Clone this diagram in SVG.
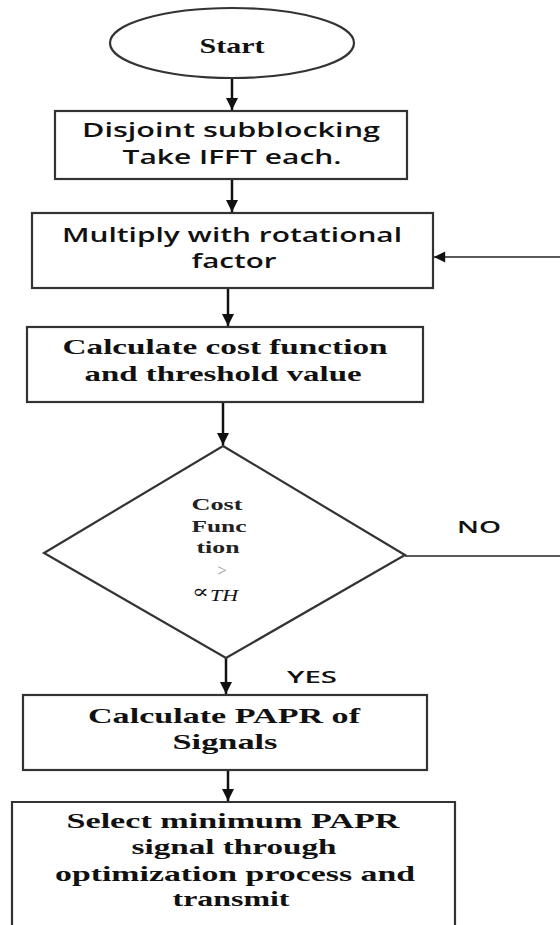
<svg xmlns="http://www.w3.org/2000/svg" width="560" height="925" viewBox="0 0 560 925">
<defs>
<marker id="ah" viewBox="0 0 10 10" refX="10" refY="5" markerWidth="5" markerHeight="5" orient="auto" markerUnits="strokeWidth">
<path d="M0,0 L10,5 L0,10 z" fill="#111"/>
</marker>
<marker id="ah2" viewBox="0 0 10 10" refX="10" refY="5" markerWidth="8" markerHeight="7" orient="auto" markerUnits="strokeWidth">
<path d="M0,0 L10,5 L0,10 z" fill="#111"/>
</marker>
<style>
.shape{fill:#fff;stroke:#333;stroke-width:2.2}
.conn{stroke:#111;stroke-width:2.5;fill:none}
.thin{stroke:#222;stroke-width:1.6;fill:none}
.ser{font-family:"Liberation Serif","Times New Roman",serif;font-weight:bold;font-size:22px;fill:#111;text-anchor:middle}
.sans{font-family:"Open Sans","DejaVu Sans",sans-serif;font-weight:600;font-size:19px;fill:#111;text-anchor:middle}
.dia{font-family:"Liberation Serif","Times New Roman",serif;font-weight:bold;font-size:16px;fill:#222;text-anchor:middle}
.lbl{font-family:"Open Sans","DejaVu Sans",sans-serif;font-weight:600;font-size:17px;fill:#111}
</style>
</defs>
<rect width="560" height="925" fill="#fff"/>

<g id="connectors">
<line class="conn" x1="232" y1="78" x2="232" y2="110" marker-end="url(#ah)"/>
<line class="conn" x1="232" y1="180" x2="232" y2="212" marker-end="url(#ah)"/>
<line class="conn" x1="228" y1="289" x2="228" y2="326" marker-end="url(#ah)"/>
<line class="conn" x1="223" y1="403" x2="223" y2="445" marker-end="url(#ah)"/>
<line class="conn" x1="226" y1="658" x2="226" y2="694" marker-end="url(#ah)"/>
<line class="conn" x1="228" y1="771" x2="228" y2="801" marker-end="url(#ah)"/>
<line class="thin" x1="405" y1="556" x2="560" y2="556"/>
<line class="thin" x1="560" y1="257" x2="434" y2="257" marker-end="url(#ah2)"/>
<text class="lbl" x="457" y="533" textLength="44" lengthAdjust="spacingAndGlyphs">NO</text>
<text class="lbl" x="287" y="683" textLength="50" lengthAdjust="spacingAndGlyphs">YES</text>
</g>

<g id="start">
<ellipse class="shape" cx="232" cy="43" rx="122" ry="35"/>
<text class="ser" x="232" y="53" font-size="21" textLength="65" lengthAdjust="spacingAndGlyphs">Start</text>
</g>

<g id="subblocking">
<rect class="shape" x="55" y="111" width="352" height="68"/>
<text class="sans" x="231" y="137" textLength="298" lengthAdjust="spacingAndGlyphs">Disjoint subblocking</text>
<text class="sans" x="232" y="164" textLength="219" lengthAdjust="spacingAndGlyphs">Take IFFT each.</text>
</g>

<g id="multiply">
<rect class="shape" x="32" y="213" width="401" height="75"/>
<text class="sans" x="232" y="242" textLength="340" lengthAdjust="spacingAndGlyphs">Multiply with rotational</text>
<text class="sans" x="234" y="268" textLength="85" lengthAdjust="spacingAndGlyphs">factor</text>
</g>

<g id="costfunction">
<rect class="shape" x="27" y="327" width="396" height="75"/>
<text class="ser" x="225" y="354" textLength="325" lengthAdjust="spacingAndGlyphs">Calculate cost function</text>
<text class="ser" x="223" y="381" textLength="277" lengthAdjust="spacingAndGlyphs">and threshold value</text>
</g>

<g id="decision">
<polygon class="shape" points="223,446 405,555 226,658 44,553"/>
<text class="dia" x="217" y="510" textLength="51" lengthAdjust="spacingAndGlyphs">Cost</text>
<text class="dia" x="219" y="532" textLength="55" lengthAdjust="spacingAndGlyphs">Func</text>
<text class="dia" x="218" y="553" textLength="43" lengthAdjust="spacingAndGlyphs">tion</text>
<text x="222" y="576" font-family="Liberation Serif, serif" font-size="17" fill="#999" text-anchor="middle">&gt;</text>
<text x="192" y="598" font-family="DejaVu Serif, serif" font-size="19" fill="#111" textLength="17" lengthAdjust="spacingAndGlyphs">∝</text>
<text x="210" y="601" font-family="Liberation Serif, serif" font-style="italic" font-size="16" fill="#111" textLength="28" lengthAdjust="spacingAndGlyphs">TH</text>
</g>

<g id="papr">
<rect class="shape" x="23" y="695" width="404" height="75"/>
<text class="ser" x="224" y="723" textLength="272" lengthAdjust="spacingAndGlyphs">Calculate PAPR of</text>
<text class="ser" x="225" y="749" textLength="105" lengthAdjust="spacingAndGlyphs">Signals</text>
</g>

<g id="select">
<path class="shape" d="M12,935 V802 H455 V935"/>
<text class="ser" x="233" y="828" textLength="333" lengthAdjust="spacingAndGlyphs">Select minimum PAPR</text>
<text class="ser" x="234" y="854" textLength="205" lengthAdjust="spacingAndGlyphs">signal through</text>
<text class="ser" x="235" y="881" textLength="360" lengthAdjust="spacingAndGlyphs">optimization process and</text>
<text class="ser" x="231" y="906" textLength="117" lengthAdjust="spacingAndGlyphs">transmit</text>
</g>
</svg>
